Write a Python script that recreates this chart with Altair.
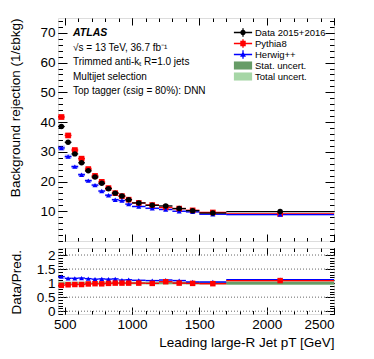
import altair as alt
import pandas as pd

FONT = "Liberation Sans"

# ---------------- data ----------------
bin_lo = [450, 500, 550, 600, 650, 700, 750, 800, 850, 900, 950, 1000, 1100, 1200, 1300, 1400, 1500, 1700]
bin_hi = [500, 550, 600, 650, 700, 750, 800, 850, 900, 950, 1000, 1100, 1200, 1300, 1400, 1500, 1700, 2500]
bin_center = [475, 525, 575, 625, 675, 725, 775, 825, 875, 925, 975, 1050, 1150, 1250, 1350, 1450, 1600, 2100]

data_rej = [38.5, 33.2, 29.3, 26.3, 23.6, 21.5, 19.4, 17.6, 16.1, 15.1, 13.9, 12.8, 12.0, 11.8, 10.9, 10.2, 9.4, 9.9]
data_err = [0.6, 0.5, 0.45, 0.4, 0.35, 0.3, 0.3, 0.3, 0.25, 0.25, 0.25, 0.2, 0.25, 0.25, 0.25, 0.3, 0.3, 0.4]
pythia_rej = [41.7, 35.5, 30.6, 27.7, 24.2, 21.9, 19.9, 17.8, 16.1, 15.1, 13.9, 12.8, 12.1, 11.3, 10.9, 10.3, 9.6, 9.1]
pythia_err = [0.9, 0.8, 0.7, 0.6, 0.55, 0.5, 0.45, 0.4, 0.4, 0.35, 0.35, 0.3, 0.3, 0.3, 0.3, 0.3, 0.25, 0.25]
herwig_rej = [31.3, 28.4, 25.0, 22.3, 20.3, 18.8, 16.8, 15.4, 13.9, 13.6, 12.4, 11.6, 11.0, 10.6, 10.0, 9.8, 9.0, 8.9]
herwig_err = [0.8, 0.7, 0.6, 0.55, 0.5, 0.45, 0.4, 0.4, 0.35, 0.35, 0.3, 0.3, 0.3, 0.3, 0.25, 0.25, 0.25, 0.25]

ratio_pythia = [0.92, 0.94, 0.95, 0.95, 0.97, 0.98, 0.975, 0.99, 1.0, 1.0, 1.0, 1.0, 0.99, 1.05, 1.0, 0.99, 0.98, 1.09]
ratio_pythia_err = [0.03, 0.03, 0.03, 0.025, 0.025, 0.025, 0.025, 0.025, 0.025, 0.025, 0.025, 0.025, 0.025, 0.03, 0.03, 0.03, 0.03, 0.03]
ratio_herwig = [1.23, 1.17, 1.17, 1.18, 1.16, 1.14, 1.15, 1.14, 1.15, 1.11, 1.12, 1.10, 1.09, 1.11, 1.09, 1.04, 1.04, 1.12]
ratio_herwig_err = [0.03, 0.03, 0.03, 0.025, 0.025, 0.025, 0.025, 0.025, 0.025, 0.025, 0.025, 0.025, 0.025, 0.03, 0.03, 0.03, 0.03, 0.03]
stat_unc = [0.01, 0.01, 0.01, 0.01, 0.01, 0.01, 0.012, 0.012, 0.012, 0.014, 0.015, 0.015, 0.02, 0.025, 0.03, 0.035, 0.03, 0.05]
total_unc = [0.06, 0.055, 0.05, 0.05, 0.05, 0.05, 0.05, 0.05, 0.05, 0.05, 0.05, 0.05, 0.05, 0.05, 0.05, 0.05, 0.05, 0.06]

grid_levels = [0, 0.5, 1.5, 2]

legend_labels = ["Data 2015+2016", "Pythia8", "Herwig++", "Stat. uncert.", "Total uncert."]
legend_colors = ["#000000", "#ff0000", "#0000ff", "#679c67", "#a6d6a6"]

annotation_lines = [
    "√s = 13 TeV, 36.7 fb⁻¹",
    "Trimmed anti-kₜ R=1.0 jets",
    "Multijet selection",
    "Top tagger (εsig = 80%): DNN",
]

# ---------------- tables ----------------
m = pd.DataFrame(dict(lo=bin_lo, hi=bin_hi, pt=bin_center,
                      d=data_rej, de=data_err,
                      p=pythia_rej, pe=pythia_err,
                      h=herwig_rej, he=herwig_err))
m["d_lo"] = m.d - m.de
m["d_hi"] = m.d + m.de
m["p_lo"] = m.p - m.pe
m["p_hi"] = m.p + m.pe
m["h_lo"] = m.h - m.he
m["h_hi"] = m.h + m.he

r = pd.DataFrame(dict(lo=bin_lo, hi=bin_hi, pt=bin_center,
                      p=ratio_pythia, pe=ratio_pythia_err,
                      h=ratio_herwig, he=ratio_herwig_err,
                      st=stat_unc, tot=total_unc))
r["p_lo"] = r.p - r.pe
r["p_hi"] = r.p + r.pe
r["h_lo"] = r.h - r.he
r["h_hi"] = r.h + r.he
r["st_lo"] = 1 - r.st
r["st_hi"] = 1 + r.st
r["tot_lo"] = 1 - r.tot
r["tot_hi"] = 1 + r.tot

# ---------------- scales & axes ----------------
xs = alt.Scale(domain=[450, 2500], nice=False, zero=False)
ys = alt.Scale(domain=[0, 75], nice=False, zero=False)
rs = alt.Scale(domain=[-0.1, 2.25], nice=False, zero=False)

X_MAJ = [500, 1000, 1500, 2000, 2500]
X_MIN = list(range(500, 2501, 100))
Y_MAJ = [10, 20, 30, 40, 50, 60, 70]
Y_MIN = list(range(0, 76, 2))
R_MAJ = [0, 0.5, 1, 1.5, 2]
R_MIN = [round(-0.1 + 0.1 * i, 1) for i in range(24)]


def axis(orient, values, size, **kw):
    spec = dict(orient=orient, values=values, tickSize=size, offset=-size,
                domain=False, grid=False, labels=False, title=None,
                tickColor="black", tickWidth=1)
    spec.update(kw)
    return alt.Axis(**spec)


LBL = dict(labels=True, labelFont=FONT, labelFontSize=13.5, labelColor="black", labelPadding=3)
TTL = dict(titleFont=FONT, titleFontSize=13.5, titleColor="black", titleFontWeight="normal")

W = 276
# ---------------- main panel ----------------
band_p = alt.Chart(m).mark_rect(color="#ff0000", opacity=0.3, clip=True).encode(
    x=alt.X("lo:Q", scale=xs, axis=axis("bottom", X_MAJ, 7)),
    x2="hi:Q",
    y=alt.Y("p_lo:Q", scale=ys, axis=axis("left", Y_MAJ, 9, **LBL,
            title="Background rejection (1/εbkg)", titleAnchor="end", titlePadding=17, **TTL)),
    y2="p_hi:Q",
)
band_h = alt.Chart(m).mark_rect(color="#0000ff", opacity=0.3, clip=True).encode(
    x=alt.X("lo:Q", scale=xs, axis=axis("bottom", X_MIN, 3.5)),
    x2="hi:Q",
    y=alt.Y("h_lo:Q", scale=ys, axis=axis("left", Y_MIN, 4.5)),
    y2="h_hi:Q",
)
line_p = alt.Chart(m).mark_rule(color="#ff0000", strokeWidth=1.3, clip=True).encode(
    x=alt.X("lo:Q", scale=xs, axis=axis("top", X_MAJ, 7)),
    x2="hi:Q",
    y=alt.Y("p:Q", scale=ys, axis=axis("right", Y_MAJ, 9)),
)
line_h = alt.Chart(m).mark_rule(color="#0000ff", strokeWidth=1.3, clip=True).encode(
    x=alt.X("lo:Q", scale=xs, axis=axis("top", X_MIN, 3.5)),
    x2="hi:Q",
    y=alt.Y("h:Q", scale=ys, axis=axis("right", Y_MIN, 4.5)),
)
pts_p = alt.Chart(m).mark_point(shape="square", filled=True, color="#ff0000", size=32, opacity=1).encode(
    x=alt.X("pt:Q", scale=xs, axis=None), y=alt.Y("p:Q", scale=ys, axis=None))
pts_h = alt.Chart(m).mark_point(shape="triangle-up", filled=True, color="#0000ff", size=26, opacity=1).encode(
    x=alt.X("pt:Q", scale=xs, axis=None), y=alt.Y("h:Q", scale=ys, axis=None))
data_hl = alt.Chart(m).mark_rule(color="black", strokeWidth=1.3, clip=True).encode(
    x=alt.X("lo:Q", scale=xs, axis=None), x2="hi:Q", y=alt.Y("d:Q", scale=ys, axis=None))
data_vl = alt.Chart(m).mark_rule(color="black", strokeWidth=1.3).encode(
    x=alt.X("pt:Q", scale=xs, axis=None), y=alt.Y("d_lo:Q", scale=ys, axis=None), y2="d_hi:Q")
data_pts = alt.Chart(m).mark_point(shape="circle", filled=True, color="black", size=30, opacity=1).encode(
    x=alt.X("pt:Q", scale=xs, axis=None), y=alt.Y("d:Q", scale=ys, axis=None))

# legend (custom symbol paths: line + marker, or boxes)
LINE = "M-1.4,-0.1H1.4V0.1H-1.4Z"
VBAR = "M-0.1,-0.65H0.1V0.65H-0.1Z"
legend_shapes = [
    LINE + VBAR + "M0.42,0A0.42,0.42 0 1,1 -0.42,0A0.42,0.42 0 1,1 0.42,0Z",
    LINE + VBAR + "M-0.42,-0.42H0.42V0.42H-0.42Z",
    LINE + VBAR + "M0,-0.5L0.45,0.35H-0.45Z",
    "M-1.4,-0.62H1.4V0.62H-1.4Z",
    "M-1.4,-0.62H1.4V0.62H-1.4Z",
]
leg = alt.Legend(orient="none", legendX=178.5, legendY=8, title=None, symbolSize=169,
                 symbolStrokeWidth=0, symbolOpacity=1, labelFont=FONT, labelFontSize=9.5,
                 labelColor="black", labelOffset=5.5, rowPadding=0, padding=0)
leg_df = pd.DataFrame({"series": legend_labels})
legend_layer = alt.Chart(leg_df).mark_point(filled=True, opacity=0).encode(
    color=alt.Color("series:N", scale=alt.Scale(domain=legend_labels, range=legend_colors), legend=leg),
    shape=alt.Shape("series:N", scale=alt.Scale(domain=legend_labels, range=legend_shapes), legend=leg),
)

texts = [alt.Chart(pd.DataFrame({"t": ["ATLAS"]})).mark_text(
    align="left", baseline="middle", font=FONT, fontSize=10.5, fontWeight="bold",
    fontStyle="italic", color="black").encode(x=alt.value(15), y=alt.value(15), text="t:N")]
for i, line in enumerate(annotation_lines):
    texts.append(alt.Chart(pd.DataFrame({"t": [line]})).mark_text(
        align="left", baseline="middle", font=FONT, fontSize=10, color="black").encode(
        x=alt.value(15), y=alt.value(30 + 14.4 * i), text="t:N"))

main = alt.layer(band_p, band_h, line_p, line_h, pts_p, pts_h, data_hl, data_vl, data_pts,
                 legend_layer, *texts).resolve_axis(x="independent", y="independent").properties(
    width=W, height=223)

# ---------------- ratio panel ----------------
grid = alt.Chart(pd.DataFrame({"g": grid_levels})).mark_rule(
    color="#666666", strokeDash=[1, 2], strokeWidth=1).encode(y=alt.Y("g:Q", scale=rs, axis=None))
tot_band = alt.Chart(r).mark_rect(color="#a6d6a6", clip=True).encode(
    x=alt.X("lo:Q", scale=xs, axis=axis("bottom", X_MAJ, 7, **LBL, format="d",
            title="Leading large-R Jet pT [GeV]", titleAnchor="end", titlePadding=5, **TTL)),
    x2="hi:Q",
    y=alt.Y("tot_lo:Q", scale=rs, axis=axis("left", R_MAJ, 9, **LBL, format="~g",
            title="Data/Pred.", titleAnchor="start", titlePadding=13, **TTL)),
    y2="tot_hi:Q",
)
st_band = alt.Chart(r).mark_rect(color="#679c67", clip=True).encode(
    x=alt.X("lo:Q", scale=xs, axis=axis("bottom", X_MIN, 3.5)),
    x2="hi:Q",
    y=alt.Y("st_lo:Q", scale=rs, axis=axis("left", R_MIN, 4.5)),
    y2="st_hi:Q",
)
rb_p = alt.Chart(r).mark_rect(color="#ff0000", opacity=0.25, clip=True).encode(
    x=alt.X("lo:Q", scale=xs, axis=axis("top", X_MAJ, 7)),
    x2="hi:Q",
    y=alt.Y("p_lo:Q", scale=rs, axis=axis("right", R_MAJ, 9)),
    y2="p_hi:Q",
)
rb_h = alt.Chart(r).mark_rect(color="#0000ff", opacity=0.25, clip=True).encode(
    x=alt.X("lo:Q", scale=xs, axis=axis("top", X_MIN, 3.5)),
    x2="hi:Q",
    y=alt.Y("h_lo:Q", scale=rs, axis=axis("right", R_MIN, 4.5)),
    y2="h_hi:Q",
)
rl_h = alt.Chart(r).mark_rule(color="#0000ff", strokeWidth=1.3, clip=True).encode(
    x=alt.X("lo:Q", scale=xs, axis=None), x2="hi:Q", y=alt.Y("h:Q", scale=rs, axis=None))
rl_p = alt.Chart(r).mark_rule(color="#ff0000", strokeWidth=1.3, clip=True).encode(
    x=alt.X("lo:Q", scale=xs, axis=None), x2="hi:Q", y=alt.Y("p:Q", scale=rs, axis=None))
rp_h = alt.Chart(r).mark_point(shape="triangle-up", filled=True, color="#0000ff", size=24, opacity=1).encode(
    x=alt.X("pt:Q", scale=xs, axis=None), y=alt.Y("h:Q", scale=rs, axis=None))
rp_p = alt.Chart(r).mark_point(shape="square", filled=True, color="#ff0000", size=30, opacity=1).encode(
    x=alt.X("pt:Q", scale=xs, axis=None), y=alt.Y("p:Q", scale=rs, axis=None))

ratio = alt.layer(grid, tot_band, st_band, rb_p, rb_h, rl_h, rl_p, rp_h, rp_p).resolve_axis(
    x="independent", y="independent").properties(width=W, height=66)

chart = alt.vconcat(main, ratio, spacing=5).properties(
    padding={"left": 0, "top": 9, "right": 5, "bottom": 0}
).configure_view(stroke="black", strokeWidth=1.2).configure(font=FONT)

chart.save("out.html", embed_options={"renderer": "svg", "actions": False})
